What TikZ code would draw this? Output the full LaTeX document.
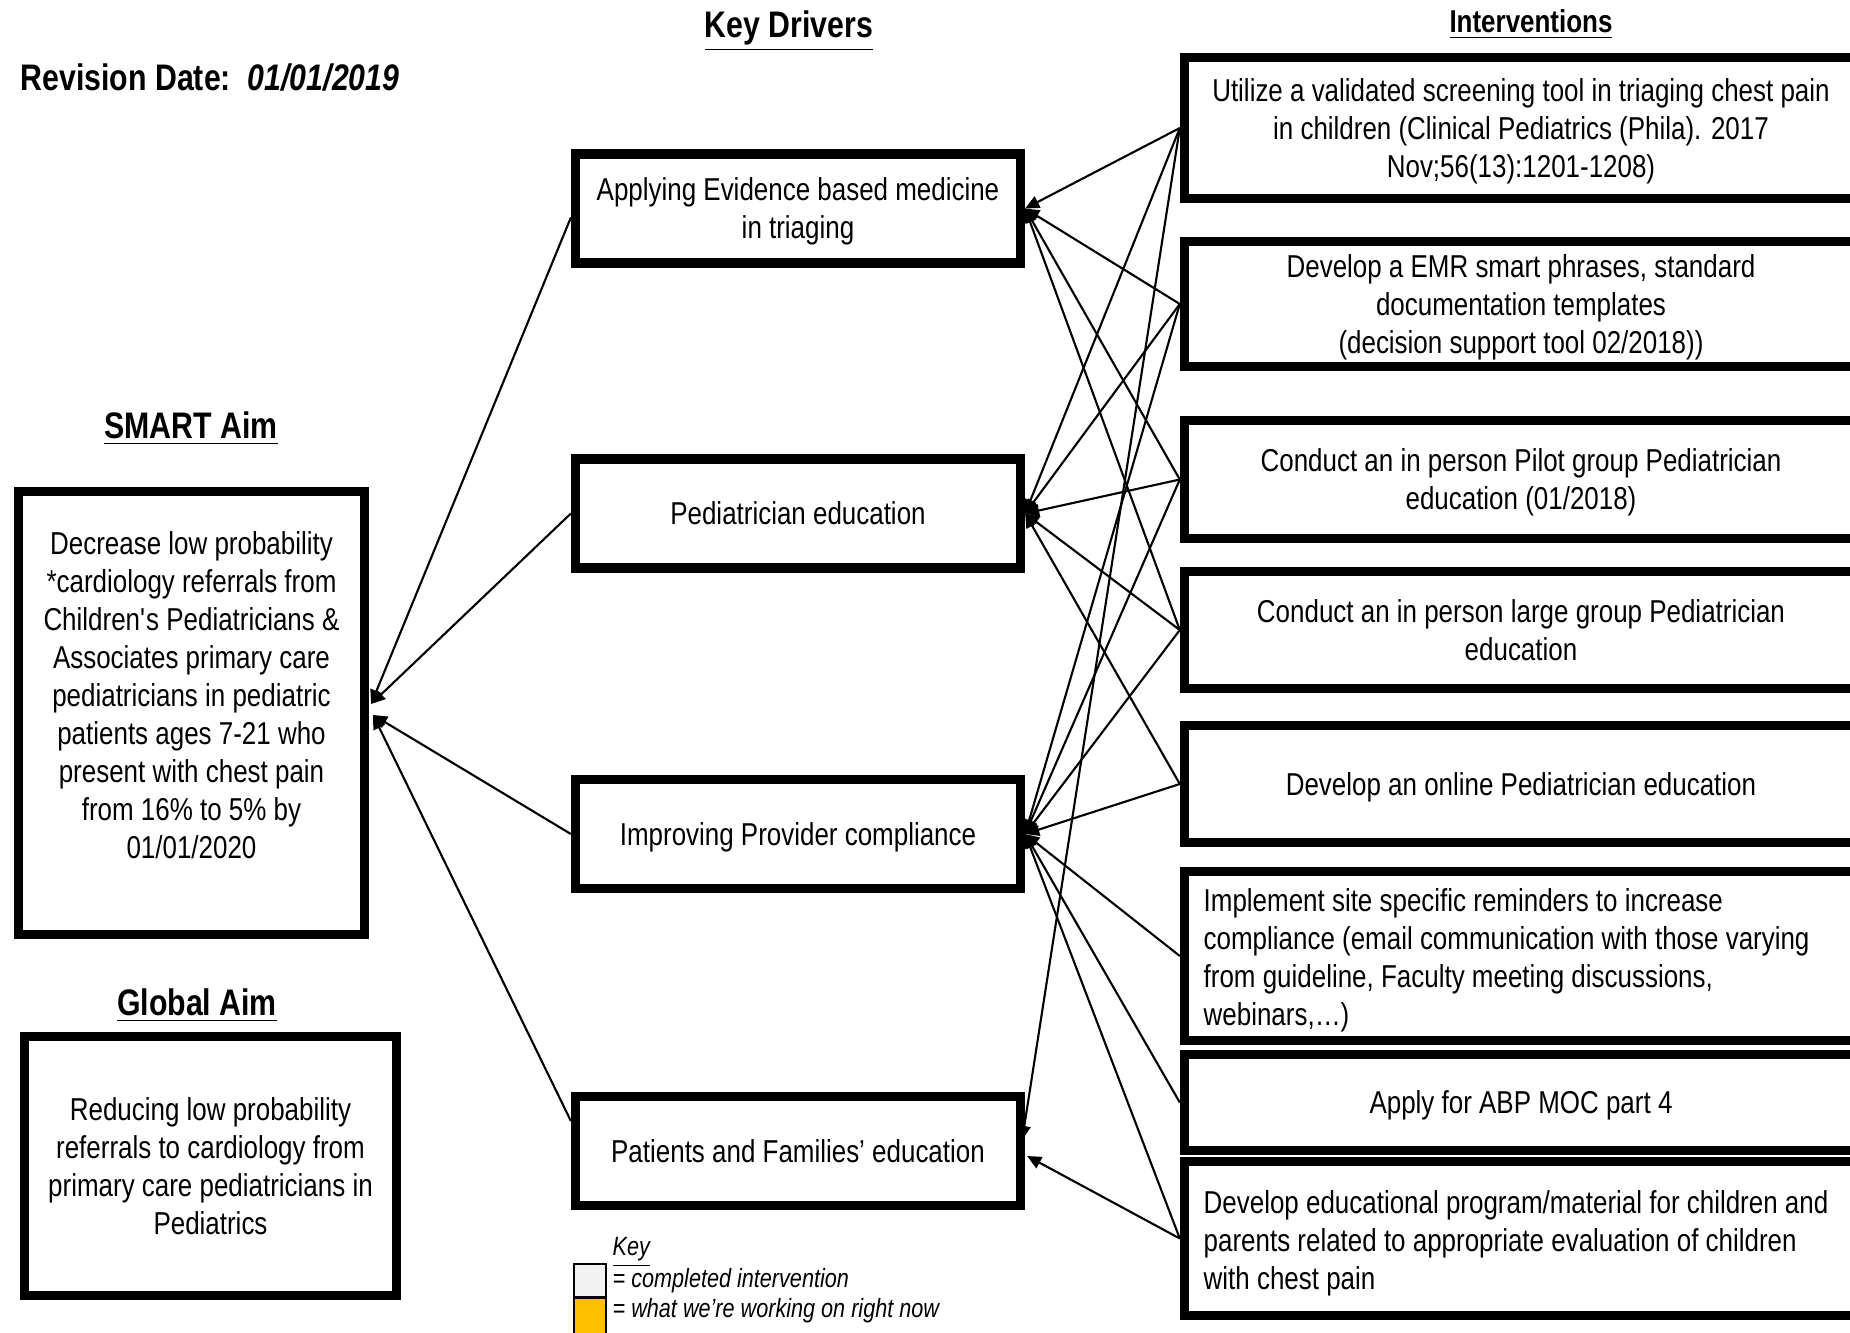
\documentclass[tikz,border=0pt]{standalone}
\usepackage{fontspec}
\setmainfont{Liberation Sans}[FakeStretch=0.82]
\usetikzlibrary{arrows.meta,calc}
\newcommand{\bodyfont}{\fontsize{9}{10.8}\selectfont}
\newcommand{\headfont}{\fontsize{10.5}{12}\selectfont\bfseries}
\newcommand{\keyfont}{\fontsize{7.5}{9}\selectfont\itshape}
\newcommand{\nd}[1]{\raisebox{0pt}[\height][0pt]{#1}}
\definecolor{keygray}{HTML}{F2F2F2}
\definecolor{keyorange}{HTML}{FFC000}
\begin{document}
\begin{tikzpicture}[x=0.01cm,y=-0.01cm,
  box/.style={draw, line width=0.095cm, inner sep=0pt, align=center, font=\bodyfont},
  drv/.style={box, minimum width=4.445cm, minimum height=1.09cm},
  intv/.style={box, minimum width=6.725cm},
  txt/.style={font=\bodyfont, inner sep=0pt},
  conn/.style={line width=0.6pt, -{Triangle[length=4pt,width=3.6pt]}},
  head/.style={font=\headfont, inner sep=0pt, anchor=base},
  keybox/.style={draw, line width=0.6pt, inner sep=0pt, minimum width=0.32cm},
  keytxt/.style={font=\keyfont, inner sep=0pt, anchor=base west},
]
\useasboundingbox (0,0) rectangle (1850,1333);
\clip (0,0) rectangle (1850,1333);

% headings
\node[head, anchor=base west] (rev) at (20,90) {Revision Date:\ \ \textit{01/01/2019}};
\node[head] (kd) at (789,37) {\underline{Key Drivers}};
\node[head, font=\fontsize{9}{11}\selectfont\bfseries] (iv) at (1531,32) {\underline{Interventions}};
\node[head] (sa) at (191,438) {\underline{SMART Aim}};
\node[head] (ga) at (197,1015) {\underline{Global Aim}};

% aims
\node[box, minimum width=3.455cm, minimum height=4.425cm] (smart) at (191.5,713) {};
\node[txt, align=center] (smarttxt) at (191.5,695) {Decrease low probability\\
*cardiology referrals from\\
Children\textquotesingle s Pediatricians \&\\
Associates primary care\\
pediatricians in pediatric\\
patients ages 7-21 who\\
present with chest pain\\
from 16\% to 5\% by\\
01/01/2020};
\node[box, minimum width=3.715cm, minimum height=2.585cm] (global) at (210.5,1166) {Reducing low probability\\
referrals to cardiology from\\
primary care pediatricians in\\
\nd{Pediatrics}};

% key drivers
\node[drv] (D1) at (798,208.5) {Applying Evidence based medicine\\\nd{in triaging}};
\node[drv] (D2) at (798,513.5) {\nd{Pediatrician education}};
\node[drv] (D3) at (798,834) {\nd{Improving Provider compliance}};
\node[drv] (D4) at (798,1151) {\nd{Patients and Families' education}};

% interventions
\node[intv, minimum height=1.405cm] (I1) at (1521,128) {Utilize a validated screening tool in triaging chest pain\\in children (Clinical Pediatrics (Phila). 2017\\\nd{Nov;56(13):1201-1208)}};
\node[intv, minimum height=1.245cm] (I2) at (1521,304) {Develop a EMR smart phrases, standard\\documentation templates\\\nd{(decision support tool 02/2018))}};
\node[intv, minimum height=1.175cm] (I3) at (1521,479.5) {Conduct an in person Pilot group Pediatrician\\\nd{education (01/2018)}};
\node[intv, minimum height=1.165cm] (I4) at (1521,630) {Conduct an in person large group Pediatrician\\\nd{education}};
\node[intv, minimum height=1.165cm] (I5) at (1521,784) {\nd{Develop an online Pediatrician education}};
\node[intv, minimum height=1.685cm] (I6) at (1521,956) {};
\node[txt, align=left, anchor=west] (I6txt) at (1203,960.5) {Implement site specific reminders to increase\\
compliance (email communication with those varying\\
from guideline, Faculty meeting discussions,\\
webinars,…)};
\node[intv, minimum height=0.955cm] (I7) at (1521,1102.5) {\nd{Apply for ABP MOC part 4}};
\node[intv, minimum height=1.535cm] (I8) at (1521,1238.5) {};
\node[txt, align=left, anchor=west] (I8txt) at (1203,1243.5) {Develop educational program/material for children and\\
parents related to appropriate evaluation of children\\
with chest pain};

% connectors interventions -> drivers
\draw[conn] (I1.west) -- (D1.east);
\draw[conn] (I1.west) -- (D2.east);
\draw[conn] (I1.west) -- ($(D4.east)+(-3,-11)$);
\draw[conn] (I2.west) -- (D1.east);
\draw[conn] (I2.west) -- (D2.east);
\draw[conn] (I2.west) -- (D3.east);
\draw[conn] (I3.west) -- (D1.east);
\draw[conn] (I3.west) -- (D2.east);
\draw[conn] (I3.west) -- (D3.east);
\draw[conn] (I4.west) -- (D1.east);
\draw[conn] (I4.west) -- (D2.east);
\draw[conn] (I4.west) -- (D3.east);
\draw[conn] (I5.west) -- (D2.east);
\draw[conn] (I5.west) -- (D3.east);
\draw[conn] (I6.west) -- (D3.east);
\draw[conn] (I7.west) -- (D3.east);
\draw[conn] (I8.west) -- (D3.east);
\draw[conn] (I8.west) -- ($(D4.east)+(2,5)$);

% connectors drivers -> SMART aim
\draw[conn] ($(D1.west)+(0,9)$) -- ($(smart.east)+(2,-9)$);
\draw[conn] (D2.west) -- ($(smart.east)+(2,-9)$);
\draw[conn] (D3.west) -- ($(smart.east)+(4,2)$);
\draw[conn] ($(D4.west)+(0,-30)$) -- ($(smart.east)+(4,2)$);

% key
\node[keytxt] (key) at (612,1255) {\underline{Key}};
\node[keybox, fill=keygray, minimum height=0.33cm] (kgray) at (590,1280.5) {};
\node[keybox, fill=keyorange, minimum height=0.42cm] (korange) at (590,1319) {};
\node[keytxt] (kt1) at (612,1287) {= completed intervention};
\node[keytxt] (kt2) at (612,1317) {= what we’re working on right now};
\end{tikzpicture}
\end{document}
